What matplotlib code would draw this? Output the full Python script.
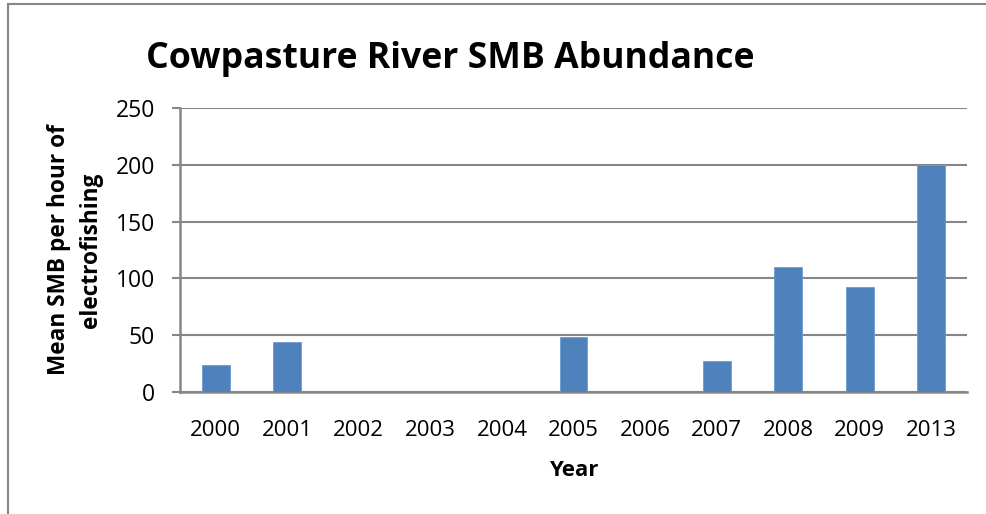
import matplotlib.pyplot as plt
from matplotlib.lines import Line2D
import numpy as np

years = ["2000", "2001", "2002", "2003", "2004", "2005", "2006", "2007", "2008", "2009", "2013"]
smb_per_hour = [24, 44, 0, 0, 0, 48, 0, 27, 110, 92, 200]
yticks = [0, 50, 100, 150, 200, 250]

bar_color = "#4f81bd"
grid_color = "#868686"
plt.rcParams["font.family"] = ["Open Sans", "DejaVu Sans"]

fig = plt.figure(figsize=(9.87, 5.14), dpi=100)
ax = fig.add_axes([180 / 987, 122 / 514, 787 / 987, 284 / 514])

x = np.arange(len(years))
ax.bar(x, smb_per_hour, width=0.39, color=bar_color, edgecolor="#6f9bd1", linewidth=0.6, zorder=3)

ax.set_xlim(-0.5, len(years) - 0.5)
ax.set_ylim(0, 250)
ax.set_xticks(x)
ax.set_xticklabels(years)
ax.set_yticks(yticks)
ax.yaxis.grid(True, color=grid_color, linewidth=1.5, zorder=0)

for side in ["top", "right"]:
    ax.spines[side].set_visible(False)
for side in ["left", "bottom"]:
    ax.spines[side].set_color(grid_color)
    ax.spines[side].set_linewidth(1.8)

ax.tick_params(axis="y", length=6, width=1.5, color=grid_color, labelsize=16.5, pad=12)
ax.tick_params(axis="x", length=0, labelsize=16, pad=20)

ax.set_xlabel("Year", fontsize=16, fontweight="bold", labelpad=14)
fig.text(75 / 987, 1 - 250 / 514, "Mean SMB per hour of\nelectrofishing", rotation=90,
         ha="center", va="center", fontsize=16.3, fontweight="bold", linespacing=1.4)

fig.text(146 / 987, 1 - 59 / 514, "Cowpasture River SMB Abundance", ha="left", va="center",
         fontsize=25.7, fontweight="bold")

# outer chart border (top and left edges)
fig.add_artist(Line2D([8 / 987, 1], [1 - 4 / 514, 1 - 4 / 514], color=grid_color, linewidth=1.5,
                      transform=fig.transFigure))
fig.add_artist(Line2D([8 / 987, 8 / 987], [0, 1 - 4 / 514], color=grid_color, linewidth=1.5,
                      transform=fig.transFigure))

fig.savefig("out.png", dpi=100)
